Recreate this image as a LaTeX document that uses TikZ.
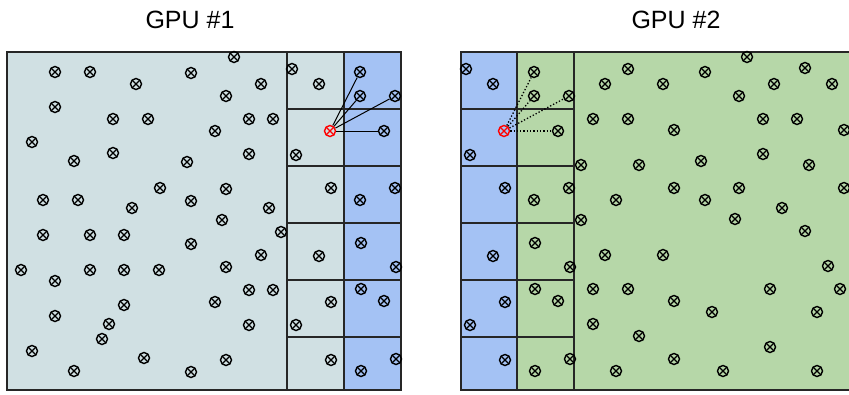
\documentclass[tikz,border=0pt]{standalone}
\usepackage{fontspec}
\setmainfont{Liberation Sans}
\usetikzlibrary{positioning}

\definecolor{lightcell}{HTML}{D0E0E3}
\definecolor{bluecell}{HTML}{A4C2F4}
\definecolor{greencell}{HTML}{B6D7A8}

\begin{document}
\begin{tikzpicture}[x=1pt,y=-1pt,
            particle/.style={
                circle,
                draw,
                line width=1.4pt,
                inner sep=0pt,
                minimum size=11pt,
                path picture={
                    \draw[line width=1.3pt] (path picture bounding box.south west) -- (path picture bounding box.north east)
                    (path picture bounding box.north west) -- (path picture bounding box.south east);
                }
            },
            hotparticle/.style={
                particle,
                draw=red,
                path picture={
                    \draw[red,line width=1.3pt] (path picture bounding box.south west) -- (path picture bounding box.north east)
                    (path picture bounding box.north west) -- (path picture bounding box.south east);
                }
            },
            frame/.style={
                line width=1.3pt,
                black!85
            },
            celline/.style={
                line width=1.2pt,
                black!85
            },
            bond/.style={
                line width=1pt
            },
            ghostbond/.style={
                line width=1.3pt,
                dotted
            },
            title/.style={
                anchor=base,
                font=\fontsize{25}{30}\selectfont
            }
        ]

\useasboundingbox (0,0) rectangle (849,394);

% Layout parameters
            \def\yTop{52}
            \def\yBot{390}
            \def\cellH{57}
            \def\xShift{174}    % GPU #2 strips = GPU #1 strips moved right

% Titles
            \node[title] (gpu1) at (190,28) {GPU \#1};
            \node[title] (gpu2) at (676,28) {GPU \#2};

% --- Domain backgrounds ---
            \fill[lightcell] (7,\yTop) rectangle (344,\yBot);
            \fill[bluecell] (344,\yTop) rectangle (401,\yBot);
            \fill[bluecell] (461,\yTop) rectangle (517,\yBot);
            \fill[greencell] (517,\yTop) rectangle (849,\yBot);

% --- Outlines and cell grid ---
            \draw[frame] (7,\yTop) rectangle (401,\yBot);
            \draw[frame] (287,\yTop) -- (287,\yBot);
            \draw[frame] (344,\yTop) -- (344,\yBot);
            \draw[frame] (849,\yTop) -- (461,\yTop) -- (461,\yBot) -- (849,\yBot);
            \draw[frame] (517,\yTop) -- (517,\yBot);
            \draw[frame] (574,\yTop) -- (574,\yBot);
            \foreach \j in {1,...,5} {
                \draw[celline] (287,\yTop+\j*\cellH) -- (401,\yTop+\j*\cellH);
                \draw[celline] (461,\yTop+\j*\cellH) -- (574,\yTop+\j*\cellH);
            }

% Particles of GPU #1 interior
            \def\inner{234/57, 55/72, 90/72, 191/73, 136/84, 261/84, 226/96, 55/107,
                113/119, 148/119, 249/119, 273/119, 215/131, 32/142, 113/153, 74/161,
                187/162, 249/154, 160/188, 226/189, 43/200, 78/200, 191/201, 132/208,
                269/208, 222/220, 43/235, 90/235, 124/235, 191/244, 281/232, 261/255,
                21/270, 90/270, 124/270, 159/270, 226/267, 55/281, 249/290, 273/290,
                215/302, 124/305, 55/316, 109/324, 249/325, 102/339, 32/351, 144/358,
                226/360, 74/371, 191/372}
            \foreach[count=\k] \x/\y in \inner {
                \node[particle] (p\k) at (\x,\y) {};
            }

% Particles of GPU #2 interior
            \def\outer{628/69, 705/72, 747/57, 805/68, 605/84, 663/84, 774/84, 832/84,
                739/96, 593/119, 628/119, 763/119, 797/119, 674/130, 844/130, 763/154,
                581/165, 639/165, 701/161, 809/165, 674/188, 739/188, 844/188, 616/200,
                705/200, 782/208, 581/220, 735/219, 805/231, 605/255, 663/255, 828/266,
                593/289, 628/289, 770/289, 840/289, 674/301, 712/312, 817/312, 593/324,
                639/336, 770/347, 674/359, 616/371, 723/371, 817/371}
            \foreach[count=\k] \x/\y in \outer {
                \node[particle] (q\k) at (\x,\y) {};
            }

% Boundary strips: owned by GPU #1 (a), ghost copy on GPU #2 (h)
            \def\stripA{292/69, 319/84, 296/155, 331/188, 319/256, 331/302, 296/325, 331/360}
            \foreach[count=\k] \x/\y in \stripA {
                \node[particle] (a\k) at (\x,\y) {};
                \node[particle] (h\k) at (\x+\xShift,\y) {};
            }

% Boundary strips: ghost copy on GPU #1 (b), owned by GPU #2 (g)
            \def\stripB{360/72, 360/96, 395/96, 384/131, 395/188, 360/200,
                361/243, 396/267, 361/289, 384/301, 396/359, 361/371}
            \foreach[count=\k] \x/\y in \stripB {
                \node[particle] (b\k) at (\x,\y) {};
                \node[particle] (g\k) at (\x+\xShift,\y) {};
            }

% Selected particle and its neighbours
            \node[hotparticle] (r1) at (330,131) {};
            \node[hotparticle] (r2) at (330+\xShift,131) {};
            \foreach \k in {1,...,4} {
                \draw[bond] (r1) -- (b\k);
                \draw[ghostbond] (r2) -- (g\k);
            }

        \end{tikzpicture}
\end{document}
